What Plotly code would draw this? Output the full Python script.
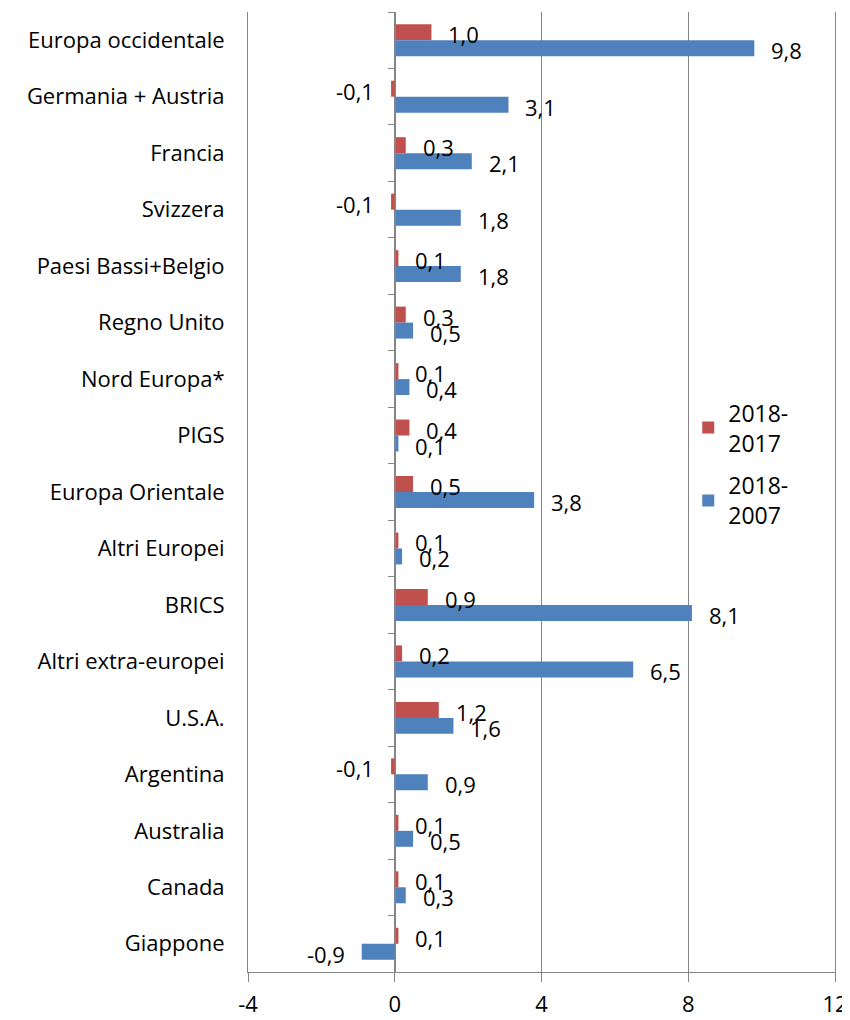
import plotly.graph_objects as go

categories = ["Europa occidentale", "Germania + Austria", "Francia", "Svizzera",
              "Paesi Bassi+Belgio", "Regno Unito", "Nord Europa*", "PIGS",
              "Europa Orientale", "Altri Europei", "BRICS", "Altri extra-europei",
              "U.S.A.", "Argentina", "Australia", "Canada", "Giappone"]
v_2018_2017 = [1.0, -0.1, 0.3, -0.1, 0.1, 0.3, 0.1, 0.4, 0.5, 0.1, 0.9, 0.2, 1.2, -0.1, 0.1, 0.1, 0.1]
v_2018_2007 = [9.8, 3.1, 2.1, 1.8, 1.8, 0.5, 0.4, 0.1, 3.8, 0.2, 8.1, 6.5, 1.6, 0.9, 0.5, 0.3, -0.9]
series_names = ["2018-<br>2017", "2018-<br>2007"]
x_ticks = [-4, 0, 4, 8, 12]

RED = "#C0504D"
BLUE = "#4F81BD"
GRID = "#868686"
FONT = "Open Sans"

fig = go.Figure()
fig.add_trace(go.Bar(y=categories, x=v_2018_2017, orientation="h", name=series_names[0],
                     legendgroup="a", marker=dict(color=RED, line=dict(width=0))))
fig.add_trace(go.Bar(y=categories, x=v_2018_2007, orientation="h", name=series_names[1],
                     legendgroup="b", marker=dict(color=BLUE, line=dict(width=0))))

def fmt(v):
    return f"{v:.1f}".replace(".", ",")

annotations = []
for vals, ysh in ((v_2018_2017, 6), (v_2018_2007, -10)):
    for c, v in zip(categories, vals):
        annotations.append(dict(
            x=v, y=c, xref="x", yref="y", text=fmt(v), showarrow=False,
            xanchor="left" if v >= 0 else "right",
            xshift=15 if v >= 0 else -15, yshift=ysh,
            font=dict(family=FONT, size=22, color="black")))

# page body adds an 8px margin, so the figure is sized/margined to compensate
fig.update_layout(
    width=842, height=1012,
    margin=dict(l=240, r=15, t=4, b=48, autoexpand=False),
    paper_bgcolor="white", plot_bgcolor="white",
    barmode="group", bargap=0.434, bargroupgap=0,
    font=dict(family=FONT, size=22, color="black"),
    showlegend=True,
    legend=dict(x=0.75, y=0.605, xanchor="left", yanchor="top",
                bgcolor="rgba(0,0,0,0)", font=dict(size=23),
                traceorder="grouped", tracegroupgap=10, itemwidth=30),
    annotations=annotations,
    xaxis=dict(range=[-4, 12], tickvals=x_ticks, ticktext=[str(t) for t in x_ticks],
               showgrid=True, gridcolor=GRID, gridwidth=1, zeroline=False,
               showline=True, linecolor=GRID, linewidth=1,
               ticks="outside", ticklen=9, tickcolor=GRID, ticklabelstandoff=4,
               tickfont=dict(size=22), automargin=False),
    yaxis=dict(autorange="reversed", type="category", categoryorder="array",
               categoryarray=categories, showgrid=False, zeroline=False,
               showline=True, mirror=True, linecolor=GRID, linewidth=1,
               ticks="", ticklabelstandoff=18,
               tickfont=dict(size=22), automargin=False),
    yaxis2=dict(overlaying="y", anchor="free", position=0.25, side="left",
                range=[len(categories) - 0.5, -0.5], tickvals=[i + 0.5 for i in range(-1, len(categories))],
                showticklabels=False, showgrid=False, zeroline=False,
                showline=True, linecolor=GRID, linewidth=1,
                ticks="outside", ticklen=7, tickcolor=GRID, automargin=False),
)
fig.add_trace(go.Scatter(x=[None], y=[None], yaxis="y2", showlegend=False, hoverinfo="skip"))

fig.write_html("out.html")
